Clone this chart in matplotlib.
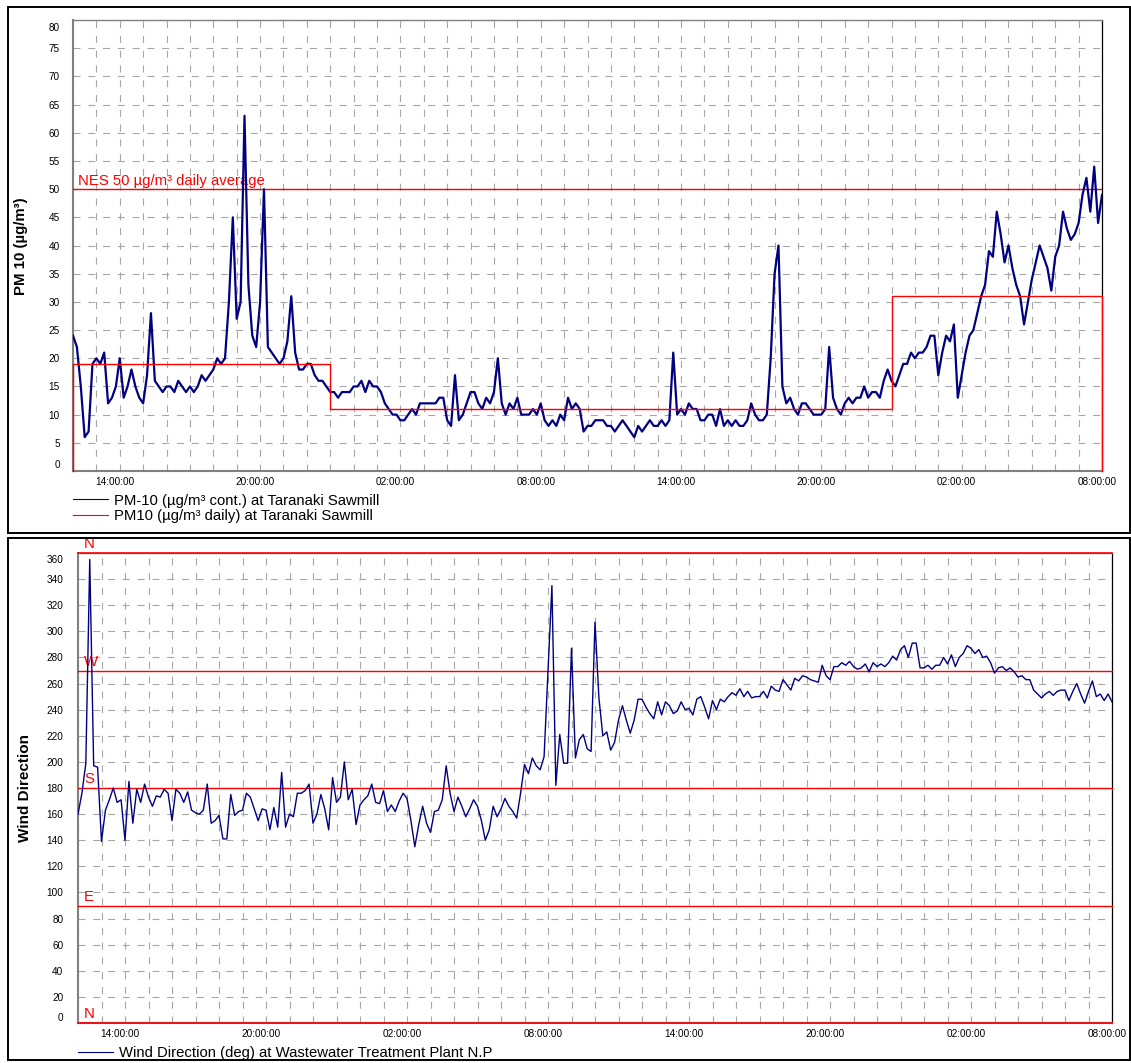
#!/usr/bin/env python3
# PM10 and wind direction timeseries, Taranaki Sawmill
import numpy as np
import matplotlib
matplotlib.use("Agg")
from matplotlib import pyplot as plt
from matplotlib import transforms as mtrans
from matplotlib.lines import Line2D
from matplotlib.patches import Rectangle

plt.rcParams["font.family"] = ["Liberation Sans", "DejaVu Sans"]

# 10 minute samples from 12:00 on day one through 08:00 two days later
sampleMinutes = 10
spanHours = 44

pm10 = [24, 22, 15, 6, 7, 19, 20, 19, 21, 12,
        13, 15, 20, 13, 15, 18, 15, 13, 12, 17,
        28, 16, 15, 14, 15, 15, 14, 16, 15, 14,
        15, 14, 15, 17, 16, 17, 18, 20, 19, 20,
        30, 45, 27, 30, 63, 33, 24, 22, 30, 50,
        22, 21, 20, 19, 20, 23, 31, 21, 18, 18,
        19, 19, 17, 16, 16, 15, 14, 14, 13, 14,
        14, 14, 15, 15, 16, 14, 16, 15, 15, 14,
        12, 11, 10, 10, 9, 9, 10, 11, 10, 12,
        12, 12, 12, 12, 13, 13, 9, 8, 17, 9,
        10, 12, 14, 14, 12, 11, 13, 12, 14, 20,
        12, 10, 12, 11, 13, 10, 10, 10, 11, 10,
        12, 9, 8, 9, 8, 10, 9, 13, 11, 12,
        11, 7, 8, 8, 9, 9, 9, 8, 8, 7,
        8, 9, 8, 7, 6, 8, 7, 8, 9, 8,
        8, 9, 8, 9, 21, 10, 11, 10, 12, 11,
        11, 9, 9, 10, 10, 8, 11, 8, 9, 8,
        9, 8, 8, 9, 12, 10, 9, 9, 10, 20,
        35, 40, 15, 12, 13, 11, 10, 12, 12, 11,
        10, 10, 10, 11, 22, 13, 11, 10, 12, 13,
        12, 13, 13, 15, 13, 14, 14, 13, 16, 18,
        16, 15, 17, 19, 19, 21, 20, 21, 21, 22,
        24, 24, 17, 21, 24, 23, 26, 13, 17, 21,
        24, 25, 28, 31, 33, 39, 38, 46, 42, 37,
        40, 36, 33, 31, 26, 30, 34, 37, 40, 38,
        36, 32, 38, 40, 46, 43, 41, 42, 44, 49,
        52, 46, 54, 44, 49]

windDir = [160, 176, 199, 355, 197, 196, 139, 163, 171, 180,
           169, 171, 140, 185, 153, 179, 169, 183, 173, 166,
           174, 173, 179, 176, 155, 179, 176, 169, 177, 163,
           161, 160, 163, 183, 153, 155, 159, 141, 141, 175,
           159, 162, 163, 176, 173, 164, 155, 164, 163, 148,
           165, 150, 192, 150, 160, 158, 176, 176, 178, 183,
           153, 160, 175, 164, 148, 188, 169, 173, 200, 171,
           179, 152, 167, 171, 174, 183, 169, 168, 178, 162,
           167, 162, 170, 176, 172, 155, 135, 152, 166, 153,
           146, 162, 163, 171, 197, 176, 162, 173, 166, 158,
           164, 171, 166, 155, 140, 148, 166, 158, 164, 172,
           166, 162, 157, 176, 198, 191, 203, 197, 194, 204,
           270, 335, 182, 221, 199, 199, 287, 203, 217, 221,
           210, 208, 307, 249, 220, 223, 209, 215, 232, 243,
           232, 222, 232, 248, 248, 242, 237, 233, 246, 236,
           246, 243, 237, 239, 246, 240, 241, 236, 248, 250,
           242, 233, 247, 240, 248, 246, 250, 253, 251, 256,
           250, 254, 249, 250, 250, 254, 249, 258, 255, 254,
           263, 259, 255, 264, 262, 266, 265, 263, 262, 261,
           274, 266, 263, 273, 273, 276, 274, 277, 273, 271,
           272, 275, 269, 276, 273, 275, 273, 276, 281, 278,
           286, 289, 280, 291, 291, 272, 272, 274, 271, 274,
           274, 280, 275, 282, 273, 280, 283, 289, 287, 283,
           286, 280, 281, 276, 268, 272, 273, 270, 272, 269,
           265, 266, 263, 263, 255, 252, 249, 252, 254, 251,
           254, 255, 255, 247, 254, 260, 252, 245, 254, 262,
           250, 252, 247, 252, 246]

# daily averages (hours after 12:00 on day one)
dailyStart = [0, 11, 35]
dailyEnd = [11, 35, 44]
dailyPM10 = [19, 11, 31]
nesLimit = 50

compassDeg = [0, 90, 180, 270, 360]
compassLabels = ["N", "E", "S", "W", "N"]

tickHours = [2, 8, 14, 20, 26, 32, 38, 44]
tickLabels = ["14:00:00", "20:00:00", "02:00:00", "08:00:00",
              "14:00:00", "20:00:00", "02:00:00", "08:00:00"]

navy = "#000080"
red = "#ff0000"
gridColour = "#a6a6a6"
fs = 10.7

hours = np.arange(len(pm10)) * sampleMinutes / 60
windHours = np.arange(len(windDir)) * sampleMinutes / 60

W, H = 1131, 1063
fig = plt.figure(figsize=(W / 100, H / 100), dpi=100)


def figRect(x0, y0, x1, y1):
    return [x0 / W, 1 - y1 / H, (x1 - x0) / W, (y1 - y0) / H]


def styleAxes(ax, ymax, ystep, ypad, labelShift):
    ax.set_xlim(0, spanHours)
    ax.set_ylim(0, ymax)
    ax.set_yticks(np.arange(0, ymax + 1, ystep))
    ax.set_xticks(tickHours)
    ax.set_xticklabels(tickLabels)
    ax.set_xticks(np.arange(0, spanHours + 1), minor=True)
    ax.tick_params(which="both", length=0)
    ax.tick_params(axis="y", labelsize=7.2, pad=ypad)
    ax.tick_params(axis="x", labelsize=7.2, pad=4.5)
    dash = (0, (6.3, 7.0))
    ax.grid(True, axis="y", which="major", color=gridColour, linestyle=dash, lw=0.8)
    ax.grid(True, axis="x", which="both", color=gridColour, linestyle=dash, lw=0.8)
    ax.set_axisbelow(True)
    for s in ["left", "bottom", "top"]:
        ax.spines[s].set_color("#808080")
    ax.spines["left"].set_linewidth(1.5)
    ax.spines["bottom"].set_linewidth(1.5)
    ax.spines["top"].set_linewidth(1.0)
    ax.spines["right"].set_color("#000000")
    ax.spines["right"].set_linewidth(0.9)
    shiftLeft = mtrans.ScaledTranslation(-5 / 100, 0, fig.dpi_scale_trans)
    for lab in ax.get_xticklabels():
        lab.set_transform(lab.get_transform() + shiftLeft)
    ylabs = ax.get_yticklabels()
    ylabs[0].set_transform(ylabs[0].get_transform() + mtrans.ScaledTranslation(0, labelShift / 100, fig.dpi_scale_trans))
    ylabs[-1].set_transform(ylabs[-1].get_transform() + mtrans.ScaledTranslation(0, -labelShift / 100, fig.dpi_scale_trans))


# ---- top panel: PM10 ----
ax1 = fig.add_axes(figRect(73, 20, 1102, 471))
styleAxes(ax1, 80, 5, 9.5, 7)
ax1.plot(hours, pm10, color=navy, lw=1.6, zorder=4)
stepX, stepY = [dailyStart[0]], [0]
for s, e, v in zip(dailyStart, dailyEnd, dailyPM10):
    stepX += [s, e]
    stepY += [v, v]
stepX.append(dailyEnd[-1])
stepY.append(0)
ax1.plot(stepX, stepY, color=red, lw=1.0, zorder=5, clip_on=False)
ax1.axhline(nesLimit, color=red, lw=1.0, zorder=3)
ax1.text(0.2, nesLimit + 0.7, "NES 50 µg/m³ daily average", color=red, fontsize=fs, va="baseline", ha="left")
ax1.set_ylabel("PM 10 (µg/m³)", fontsize=10.8, fontweight="bold")
ax1.yaxis.set_label_coords(28 / W, 1 - 246 / H, transform=fig.transFigure)
hdl1 = [Line2D([], [], color=navy, lw=0.8), Line2D([], [], color=red, lw=0.8)]
ax1.legend(hdl1, ["PM-10 (µg/m³ cont.) at Taranaki Sawmill", "PM10 (µg/m³ daily) at Taranaki Sawmill"],
           loc="upper left", bbox_to_anchor=(73 / W, 1 - 493.5 / H), bbox_transform=fig.transFigure,
           frameon=False, fontsize=fs, handlelength=2.35, handletextpad=0.4, labelspacing=0.12,
           borderpad=0, borderaxespad=0)

# ---- bottom panel: wind direction ----
ax2 = fig.add_axes(figRect(78, 553, 1112, 1023))
styleAxes(ax2, 360, 20, 10.5, 6)
ax2.plot(windHours, windDir, color=navy, lw=1.0, zorder=4)
for deg, lab in zip(compassDeg, compassLabels):
    ax2.axhline(deg, color=red, lw=1.2 if deg in (0, 360) else 1.0, zorder=3, clip_on=False)
    ax2.text(0.26, deg + 3.5, lab, color=red, fontsize=fs, va="baseline", ha="left", clip_on=False)
ax2.set_ylabel("Wind Direction", fontsize=11, fontweight="bold")
ax2.yaxis.set_label_coords(32 / W, 1 - 788 / H, transform=fig.transFigure)
ax2.legend([Line2D([], [], color=navy, lw=0.8)], ["Wind Direction (deg) at Wastewater Treatment Plant N.P"],
           loc="upper left", bbox_to_anchor=(78 / W, 1 - 1046 / H), bbox_transform=fig.transFigure,
           frameon=False, fontsize=fs, handlelength=2.35, handletextpad=0.4,
           borderpad=0, borderaxespad=0)

# outer chart frames
for y0, y1 in [(7, 533), (538, 1060)]:
    fig.patches.append(Rectangle((8 / W, 1 - y1 / H), 1122 / W, (y1 - y0) / H, transform=fig.transFigure,
                                 fill=False, edgecolor="black", lw=1.4))

fig.savefig("out.png", dpi=100, facecolor="white")
